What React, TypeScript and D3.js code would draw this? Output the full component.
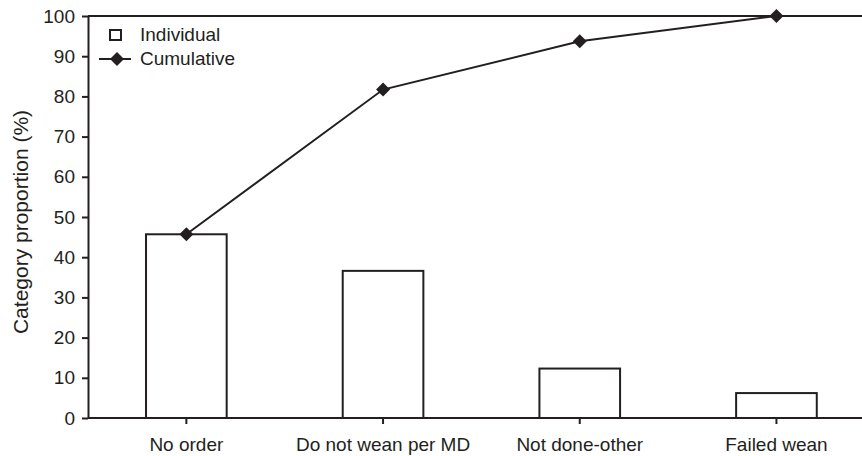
import React, { useEffect, useRef } from "react";
import * as d3 from "d3";

const categories = ["No order", "Do not wean per MD", "Not done-other", "Failed wean"];
const individual = [45.7, 36.6, 12.3, 6.2];
const cumulative = [45.7, 81.7, 93.7, 100];
const yTicks = [0, 10, 20, 30, 40, 50, 60, 70, 80, 90, 100];

const W = 862;
const H = 456;

const App: React.FC = () => {
  const ref = useRef<SVGSVGElement>(null);

  useEffect(() => {
    const svg = d3.select(ref.current);
    svg.selectAll("*").remove();

    const left = 88;
    const top = 16;
    const bottom = 418;
    const font = "'Liberation Sans', Arial, sans-serif";
    const ink = "#231f20";

    const x = d3.scaleBand().domain(categories).range([left, left + 4 * 196.7]).paddingInner(0.59).paddingOuter(0.295);
    const y = d3.scaleLinear().domain([0, 100]).range([bottom, top]);

    // bars
    svg
      .selectAll("rect.bar")
      .data(individual)
      .enter()
      .append("rect")
      .attr("class", "bar")
      .attr("x", (d, i) => x(categories[i])!)
      .attr("y", (d) => y(d))
      .attr("width", x.bandwidth())
      .attr("height", (d) => bottom - y(d))
      .attr("fill", "white")
      .attr("stroke", ink)
      .attr("stroke-width", 2);

    // top frame line
    svg
      .append("line")
      .attr("x1", left)
      .attr("x2", W)
      .attr("y1", top)
      .attr("y2", top)
      .attr("stroke", ink)
      .attr("stroke-width", 2);

    // y axis
    const yAxis = svg
      .append("g")
      .attr("transform", `translate(${left},0)`)
      .call(d3.axisLeft(y).tickValues(yTicks).tickSize(6).tickSizeOuter(0));
    yAxis.select(".domain").attr("stroke", ink).attr("stroke-width", 2);
    yAxis.selectAll(".tick line").attr("stroke", ink).attr("stroke-width", 2);
    yAxis
      .selectAll(".tick text")
      .attr("font-family", font)
      .attr("font-size", 19)
      .attr("fill", ink)
      .attr("x", -13);

    // x axis
    const xAxis = svg
      .append("g")
      .attr("transform", `translate(0,${bottom})`)
      .call(d3.axisBottom(x).tickSize(6).tickSizeOuter(0));
    xAxis.select(".domain").remove();
    xAxis
      .append("line")
      .attr("x1", left)
      .attr("x2", W)
      .attr("stroke", ink)
      .attr("stroke-width", 2);
    xAxis.selectAll(".tick line").attr("stroke", ink).attr("stroke-width", 2);
    xAxis
      .selectAll(".tick text")
      .attr("font-family", font)
      .attr("font-size", 19)
      .attr("fill", ink)
      .attr("y", 20);

    // cumulative line
    const cx = (i: number) => x(categories[i])! + x.bandwidth() / 2;
    const line = d3
      .line<number>()
      .x((d, i) => cx(i))
      .y((d) => y(d));
    svg
      .append("path")
      .datum(cumulative)
      .attr("fill", "none")
      .attr("stroke", ink)
      .attr("stroke-width", 2)
      .attr("d", line);

    const diamond = "M0,-7L7,0L0,7L-7,0Z";
    svg
      .selectAll("path.pt")
      .data(cumulative)
      .enter()
      .append("path")
      .attr("class", "pt")
      .attr("d", diamond)
      .attr("transform", (d, i) => `translate(${cx(i)},${y(d)})`)
      .attr("fill", ink);

    // y label
    svg
      .append("text")
      .attr("transform", `translate(28,222) rotate(-90)`)
      .attr("text-anchor", "middle")
      .attr("font-family", font)
      .attr("font-size", 21)
      .attr("fill", ink)
      .text("Category proportion (%)");

    // legend
    svg
      .append("rect")
      .attr("x", 110)
      .attr("y", 30)
      .attr("width", 11)
      .attr("height", 10)
      .attr("fill", "white")
      .attr("stroke", ink)
      .attr("stroke-width", 2);
    svg
      .append("text")
      .attr("x", 140)
      .attr("y", 41)
      .attr("font-family", font)
      .attr("font-size", 19)
      .attr("fill", ink)
      .text("Individual");
    svg
      .append("line")
      .attr("x1", 99)
      .attr("x2", 131)
      .attr("y1", 59)
      .attr("y2", 59)
      .attr("stroke", ink)
      .attr("stroke-width", 2);
    svg
      .append("path")
      .attr("d", diamond)
      .attr("transform", "translate(117,59)")
      .attr("fill", ink);
    svg
      .append("text")
      .attr("x", 140)
      .attr("y", 65)
      .attr("font-family", font)
      .attr("font-size", 19)
      .attr("fill", ink)
      .text("Cumulative");
  }, []);

  return (
    <div style={{ position: "absolute", left: 0, top: 0 }}>
      <svg ref={ref} width={W} height={H} style={{ display: "block", background: "white" }} />
    </div>
  );
};

export default App;
